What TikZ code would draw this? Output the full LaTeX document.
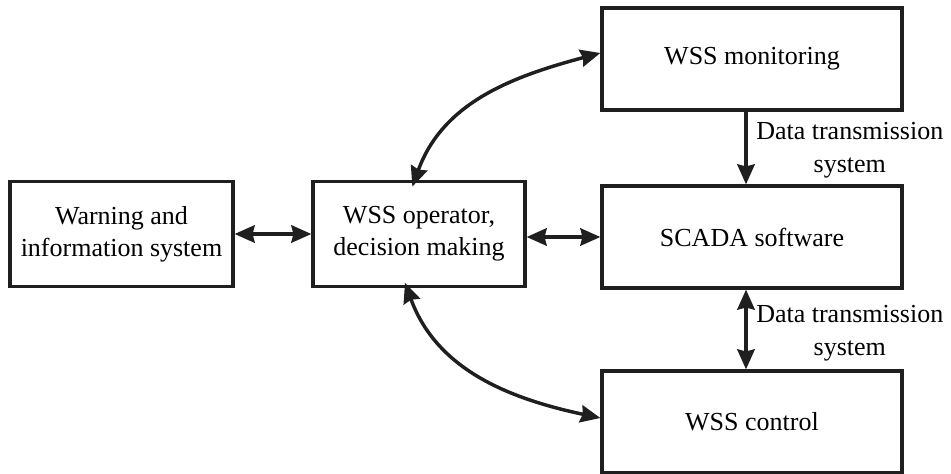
\documentclass[tikz,border=0pt]{standalone}
\usepackage{fontspec}
\setmainfont{Liberation Serif}
\usetikzlibrary{arrows.meta}

\tikzset{
  blk/.style={draw=black!88, line width=2.4pt, inner sep=0pt, align=center,
    font=\fontsize{19.5}{24}\selectfont},
  lbl/.style={inner sep=0pt, align=center, font=\fontsize{19.5}{25}\selectfont},
  tip/.tip={Stealth[length=15pt,width=13pt,inset=1.5pt]},
  lnk/.style={draw=black!88, line width=2.6pt, tip-tip},
  onelnk/.style={draw=black!88, line width=2.6pt, -tip},
}

\begin{document}
\begin{tikzpicture}[x=0.75pt,y=0.75pt]
    \useasboundingbox (0,0) rectangle (951,-474);
    % boxes
    \node[blk, minimum width=167.25pt, minimum height=78.75pt] (warn) at (121.5,-234) {Warning and\\information system};
    \node[blk, minimum width=159pt, minimum height=78.75pt] (oper) at (419,-234) {WSS operator,\\decision making};
    \node[blk, minimum width=225pt, minimum height=76.5pt] (mon) at (752,-59) {WSS monitoring};
    \node[blk, minimum width=225pt, minimum height=76.5pt] (scada) at (752,-237) {SCADA software};
    \node[blk, minimum width=225pt, minimum height=76.5pt] (ctrl) at (752,-422) {WSS control};
    % links
    \draw[lnk] (warn) -- (oper);
    \draw[lnk] (oper.east |- scada.west) -- (scada.west);
    \draw[lnk] ([xshift=-5pt,yshift=-5pt]oper.north) to[out=70,in=195] ([yshift=4.5pt]mon.west);
    \draw[lnk] ([xshift=-10.5pt,yshift=4pt]oper.south) to[out=-70,in=168] ([yshift=3pt]ctrl.west);
    \draw[onelnk] ([xshift=-4.5pt]mon.south) -- ([xshift=-4.5pt]scada.north);
    \draw[lnk] ([xshift=-4.5pt]scada.south) -- ([xshift=-4.5pt]ctrl.north);
    % labels
    \node[lbl, anchor=west] (dts1) at (756,-150) {Data transmission\\system};
    \node[lbl, anchor=west] (dts2) at (756,-333) {Data transmission\\system};
\end{tikzpicture}
\end{document}
